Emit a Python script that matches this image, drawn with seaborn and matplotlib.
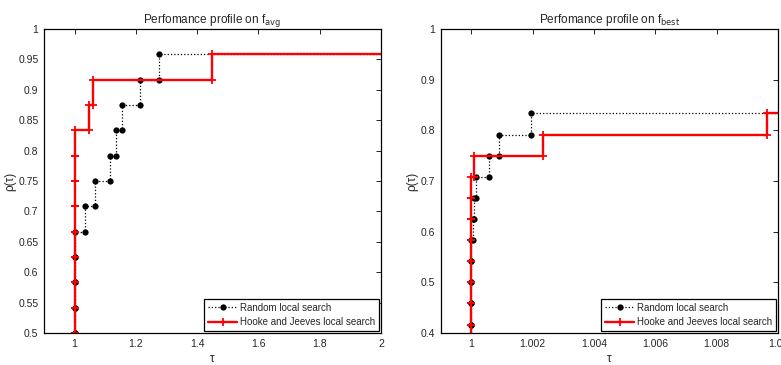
import numpy as np
import pandas as pd
import matplotlib.pyplot as plt
import seaborn as sns

# performance ratios per solver (24 test problems, unsolved ones left out)
n_prob = 24
avg_random = [1] * 16 + [1.035, 1.065, 1.115, 1.135, 1.155, 1.215, 1.275]
avg_hooke = [1] * 20 + [1.0455, 1.061, 1.448]
avg_tau_max = 2.0
best_random = [1] * 14 + [1.00004, 1.00009, 1.00014, 1.00057, 1.0009, 1.00193]
best_hooke = [1] * 17 + [1.00008, 1.00233, 1.00963]
best_tau_max = 1.01

labels = ["Random local search", "Hooke and Jeeves local search"]


def stairs(ratios, tau_max):
    # matlab-like stairs of the profile, plus a tail out to tau_max
    r = np.sort(np.array(ratios, dtype=float))
    rho = np.arange(1, len(r) + 1) / n_prob
    xs = np.append(np.repeat(r, 2)[1:], tau_max)
    ys = np.append(np.repeat(rho, 2)[:-1], rho[-1])
    return pd.DataFrame({"tau": xs, "rho": ys})


sns.set_style("white")
plt.rcParams["font.family"] = ["Liberation Sans Narrow", "Liberation Sans", "DejaVu Sans"]
plt.rcParams["mathtext.fontset"] = "custom"
plt.rcParams["mathtext.rm"] = "Liberation Sans Narrow"

fig = plt.figure(figsize=(7.81, 3.65), dpi=100)
ax1 = fig.add_axes([0.0563, 0.0877, 0.4315, 0.833])
ax2 = fig.add_axes([0.5643, 0.0877, 0.4319, 0.833])

panels = [
    (ax1, avg_random, avg_hooke, avg_tau_max, "avg", (0.9, 2.0), (0.5, 1.0),
     np.arange(1, 2.01, 0.2), np.arange(0.5, 1.001, 0.05)),
    (ax2, best_random, best_hooke, best_tau_max, "best", (0.999, 1.01), (0.4, 1.0),
     np.arange(1, 1.0101, 0.002), np.arange(0.4, 1.001, 0.1)),
]

for ax, rnd, hj, tmax, sub, xl, yl, xt, yt in panels:
    d1 = stairs(rnd, tmax)
    d2 = stairs(hj, tmax)
    sns.lineplot(data=d1, x="tau", y="rho", sort=False, estimator=None, ax=ax,
                 color="black", linestyle=":", linewidth=0.9, marker="o",
                 markersize=4.5, markeredgewidth=0, markerfacecolor="black",
                 markevery=slice(0, len(d1) - 1), label=labels[0])
    sns.lineplot(data=d2, x="tau", y="rho", sort=False, estimator=None, ax=ax,
                 color="red", linestyle="-", linewidth=1.7, marker="+",
                 markersize=6, markeredgewidth=1.3, markeredgecolor="red",
                 markevery=slice(0, len(d2) - 1), label=labels[1])
    ax.set_xlim(*xl)
    ax.set_ylim(*yl)
    ax.set_xticks(xt)
    ax.set_yticks(yt)
    ax.set_xticklabels([f"{v:g}" for v in np.round(xt, 4)])
    ax.set_yticklabels([f"{v:g}" for v in np.round(yt, 3)])
    ax.tick_params(direction="in", top=True, right=True, length=3.5, width=0.6,
                   labelsize=7.5, color="black", pad=4)
    for s in ax.spines.values():
        s.set_color("black")
        s.set_linewidth(0.9)
    ax.set_title(r"Perfomance profile on f$_{\rm " + sub + "}$", fontsize=8.5, pad=4)
    ax.set_xlabel("τ", fontsize=8.5, labelpad=3)
    ax.set_ylabel("ρ(τ)", fontsize=8.5, labelpad=1.5)
    leg = ax.legend(loc="lower right", fontsize=7, frameon=True, fancybox=False,
                    edgecolor="black", framealpha=1, borderaxespad=0.2,
                    handlelength=3.0, borderpad=0.4, labelspacing=0.45,
                    handletextpad=0.3)
    leg.get_frame().set_linewidth(0.9)

fig.savefig("out.png", dpi=100)
